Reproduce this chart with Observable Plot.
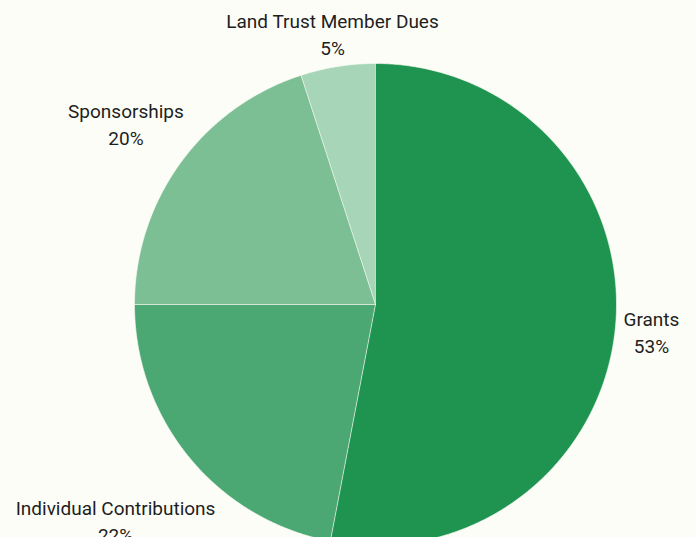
<!DOCTYPE html>
<html>
<head>
<meta charset="utf-8">
<script src="https://cdn.jsdelivr.net/npm/d3@7"></script>
<script src="https://cdn.jsdelivr.net/npm/@observablehq/plot@0.6"></script>
<style>
  html, body { margin: 0; padding: 0; background: #fdfdf7; }
  #chart svg { display: block; }
</style>
</head>
<body>
<div id="chart"></div>
<script>
// Data
const categories = ["Grants", "Individual Contributions", "Sponsorships", "Land Trust Member Dues"];
const shares = [53, 22, 20, 5];
const colors = ["#1e9450", "#4ca872", "#7cbf94", "#a6d5b8"];

// Layout (not data)
const W = 696, H = 537;
const cx = 375, cy = 304, R = 241;
const labelRadius = {
  "Grants": 1.15,
  "Individual Contributions": 1.40,
  "Sponsorships": 1.28,
  "Land Trust Member Dues": 1.14
};

const total = d3.sum(shares);
const slices = [];
let acc = 0;
categories.forEach((name, i) => {
  const a0 = acc / total * 2 * Math.PI;
  acc += shares[i];
  const a1 = acc / total * 2 * Math.PI;
  slices.push({name, value: shares[i], color: colors[i], a0, a1});
});

// Polygon points for each slice, in unit circle coordinates (y up)
const pts = [];
for (const s of slices) {
  pts.push({name: s.name, color: s.color, x: 0, y: 0});
  const n = Math.max(2, Math.ceil((s.a1 - s.a0) / (Math.PI / 360)));
  for (let k = 0; k <= n; k++) {
    const a = s.a0 + (s.a1 - s.a0) * k / n;
    pts.push({name: s.name, color: s.color, x: Math.sin(a), y: Math.cos(a)});
  }
}

const labels = slices.map(s => {
  const a = (s.a0 + s.a1) / 2;
  const r = labelRadius[s.name];
  return {text: s.name + "\n" + Math.round(s.value / total * 100) + "%", x: r * Math.sin(a), y: r * Math.cos(a)};
});

const chart = Plot.plot({
  width: W,
  height: H,
  margin: 0,
  style: {background: "#fdfdf7", fontFamily: "Roboto, 'Noto Sans', sans-serif"},
  x: {domain: [-cx / R, (W - cx) / R], range: [0, W], axis: null},
  y: {domain: [-(H - cy) / R, cy / R], range: [H, 0], axis: null},
  color: {type: "identity"},
  marks: [
    Plot.line(pts, {x: "x", y: "y", z: "name", fill: "color", stroke: "#fdfdf7", strokeWidth: 1, strokeOpacity: 0.6, curve: "linear"}),
    Plot.text(labels, {x: "x", y: "y", text: "text", fontSize: 19, lineHeight: 1.42, fill: "#1e1e1e", textAnchor: "middle", lineAnchor: "middle", fontWeight: 400})
  ]
});
document.getElementById("chart").appendChild(chart);
</script>
</body>
</html>
